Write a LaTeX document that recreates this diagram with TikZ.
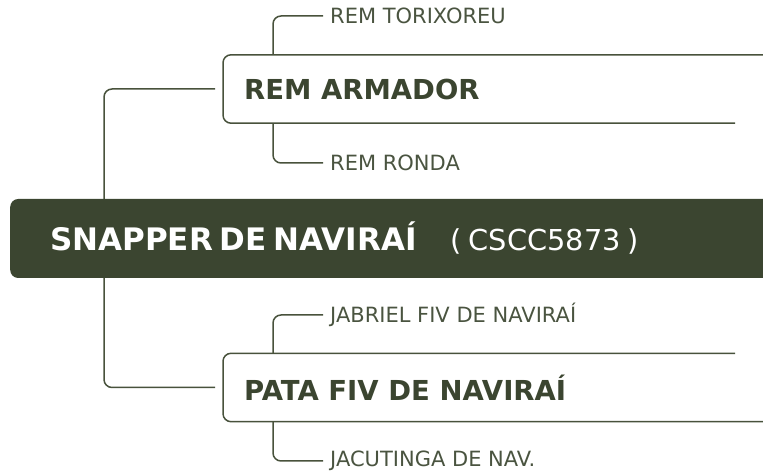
\documentclass[tikz,border=0pt]{standalone}
\usepackage{fontspec}
\setmainfont{DejaVu Sans}
\usepackage{tikz}
\usetikzlibrary{positioning,calc}
\definecolor{darkolive}{RGB}{59, 69, 48}
\definecolor{olive-line}{RGB}{72, 82, 60}
\definecolor{olive-text}{RGB}{74, 84, 64}

\begin{document}
\begin{tikzpicture}[
            x=1pt, y=1pt,
            every node/.style={inner sep=0pt, font=\fontsize{21}{25}\selectfont, text=olive-text},
            rootbox/.style={fill=darkolive, rounded corners=8pt, text=white, anchor=west,
                minimum height=79pt, text width=740pt, align=left, inner xsep=40pt},
            branchbox/.style={anchor=west, minimum height=68pt, inner xsep=21pt, text=darkolive,
                font=\fontsize{27.5}{32}\selectfont\bfseries},
            leaf/.style={anchor=west, inner xsep=7pt},
            link/.style={line width=1.5pt, olive-line, rounded corners=8pt},
        ]
            \useasboundingbox (0,0) rectangle (763,473);
            \clip (0,0) rectangle (763,473);
            \coordinate (trunk) at (104,0);
            \coordinate (rimR) at (765,0);
            \coordinate (rimS) at (735,0);

            % branch nodes
            \node[branchbox] (arm) at (223,384) {REM ARMADOR};
            \node[branchbox] (pata) at (223,85.5) {PATA FIV DE NAVIRAÍ};

            % trunk from branch to branch, behind the root
            \draw[link] ([xshift=-8pt]arm.west) -- (trunk |- arm.west)
                -- (trunk |- pata.west) -- ([xshift=-8pt]pata.west);

            % root
            \node[rootbox] (snap) at (10,234.5)
                {\fontsize{31}{36}\selectfont\bfseries SNAPPER DE NAVIRAÍ\hspace{34pt}%
                 \fontsize{28.8}{34}\mdseries ( CSCC5873 )};

            % open outlines of the branches
            \draw[link] (rimR |- arm.north) -- (arm.north west) -- (arm.south west) -- (rimS |- arm.south);
            \draw[link] (rimS |- pata.north) -- (pata.north west) -- (pata.south west) -- (rimR |- pata.south);

            % leaves
            \node[leaf] (tor) at (323,457) {REM TORIXOREU};
            \node[leaf] (ron) at (323,310) {REM RONDA};
            \node[leaf] (jab) at (323,158) {JABRIEL FIV DE NAVIRAÍ};
            \node[leaf] (jac) at (323,12) {JACUTINGA DE NAV.};

            \draw[link] ([xshift=50pt]arm.north west) |- (tor.west);
            \draw[link] ([xshift=50pt]arm.south west) |- (ron.west);
            \draw[link] ([xshift=50pt]pata.north west) |- (jab.west);
            \draw[link] ([xshift=50pt]pata.south west) |- (jac.west);
        \end{tikzpicture}
\end{document}
